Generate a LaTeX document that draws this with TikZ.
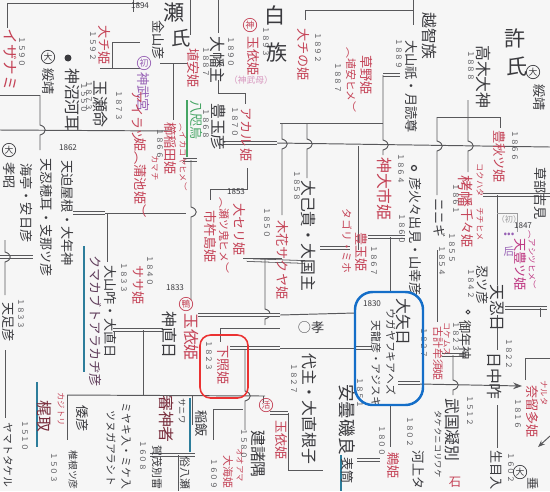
\documentclass[tikz,border=0pt]{standalone}
\usepackage{fontspec}
\usepackage{tikz}
\usetikzlibrary{arrows.meta, positioning, calc}
\newfontfamily\jp{Noto Sans CJK JP}
\newfontfamily\vjp[Vertical=RotatedGlyphs]{Noto Sans CJK JP}
\definecolor{ink}{RGB}{58,58,62}
\definecolor{redink}{RGB}{196,66,86}
\definecolor{darkred}{RGB}{120,45,60}
\definecolor{magink}{RGB}{190,55,130}
\definecolor{purink}{RGB}{150,95,180}
\definecolor{plum}{RGB}{95,60,90}
\definecolor{pinkink}{RGB}{215,150,190}
\definecolor{greenink}{RGB}{70,165,100}
\definecolor{tealline}{RGB}{45,125,155}
\definecolor{boxblue}{RGB}{20,110,200}
\definecolor{boxred}{RGB}{235,50,50}
\definecolor{paper}{RGB}{246,246,246}
% vertical line with a small hop over a crossing line: x, top, crossing, bottom
\newcommand\hop[4]{\draw[rule] (#1,#2) -- (#1,#3-5) .. controls (#1+7,#3-3) and (#1+7,#3+3) .. (#1,#3+5) -- (#1,#4);}

\begin{document}
\begin{tikzpicture}[x=0.02cm, y=-0.02cm,
    vt/.style={rotate=-90, anchor=west, inner sep=0pt, text=ink, font=\vjp\fontsize{7.5}{8}\selectfont},
    vbig/.style={vt, font=\vjp\fontsize{9}{10}\selectfont},
    vmid/.style={vt, font=\vjp\fontsize{6.2}{7}\selectfont},
    vsm/.style={vt, font=\vjp\fontsize{4.8}{5}\selectfont},
    yr/.style={vt, font=\vjp\fontsize{4.4}{5}\selectfont, text=ink!85},
    hz/.style={inner sep=0pt, text=ink, font=\jp\fontsize{4.6}{5}\selectfont},
    head/.style={inner sep=0pt, text=ink, font=\jp\fontsize{12}{12}\selectfont},
    crc/.style={draw=#1, text=#1, circle, inner sep=0.3pt, line width=0.4pt, font=\jp\fontsize{5}{5}\selectfont},
    rule/.style={draw=ink!85, line width=0.55pt},
    dbl/.style={draw=ink!85, double=paper, double distance=1.1pt, line width=0.45pt},
    blueline/.style={draw=tealline, line width=0.9pt}
]
\fill[paper] (0,0) rectangle (550,491);
\useasboundingbox (0,0) rectangle (550,491);

% ---- lines
\draw[rule] (7,3) -- (140,3); \draw[rule] (7,3) -- (7,28);
\draw[rule] (133,0) -- (133,12); \draw[rule] (190,0) -- (190,35); \draw[rule] (218,0) -- (218,33);
\draw[rule] (112,42) -- (140,42); \draw[rule] (100,68) -- (140,68); \draw[rule] (112,42) -- (112,68);
\draw[rule] (160,63) -- (188,63); \draw[rule] (173,63) -- (173,120);
\draw[rule] (218,80) -- (218,93) -- (245,93) -- (245,104);
\draw[rule] (305,10) -- (413,10); \draw[rule] (305,10) -- (305,20); \draw[rule] (413,0) -- (413,25);
\draw[rule] (0,95) -- (40,95);
\hop{40}{95}{130}{150}
\draw[rule] (0,130) -- (172,131);
\draw[dbl] (223,143) -- (277,143);
\draw[rule] (277,143) -- (550,147);
\draw[dbl] (383,75) -- (400,75);
\hop{383}{75}{145}{155}
\draw[rule] (280,123) -- (383,123);
\hop{282}{123}{144}{215}
\hop{307}{123}{144}{178}
\draw[rule] (358,146) -- (358,250);
\draw[dbl] (320,248) -- (350,248);
\draw[dbl] (368,237) -- (405,237); \draw[rule] (390,237) -- (390,292);
\draw[rule] (437,117) -- (500,117); \draw[rule] (500,117) -- (500,128);
\hop{437}{117}{146}{195}
\hop{468}{100}{146}{172}
\draw[rule] (437,250) -- (437,322);
\draw[dbl] (483,195) -- (550,195); \draw[rule] (497,195) -- (497,285);
\draw[rule, draw=ink!50] (497,213) -- (517,213) -- (517,232);
\draw[dbl] (505,308) -- (547,308); \draw[rule] (540,308) -- (540,317);
\draw[rule] (497,315) -- (497,350); \draw[rule] (497,405) -- (497,448);
\draw[rule] (525,358) -- (550,358); \draw[rule] (525,358) -- (525,380);
\draw[dbl] (183,160) -- (197,160);
\hop{191}{160}{212}{300}
\draw[dbl] (73,213) -- (105,213); \draw[rule] (105,213) -- (186,213);
\draw[rule] (107,213) -- (107,262);
\draw[rule] (247,168) -- (247,189) -- (210,189) -- (210,200);
\draw[dbl] (0,257) -- (33,257);
\hop{5}{240}{257}{295}
\draw[rule] (5,350) -- (5,418);
\draw[dbl] (113,330) -- (163,330); \draw[rule] (143,330) -- (143,395);
\draw[rule] (67,395) -- (265,396); \draw[rule] (67,395) -- (67,440);
\draw[rule] (192,396) -- (192,425); \draw[rule] (263,396) -- (263,403);
\draw[rule] (213,409) -- (243,409); \draw[rule] (213,409) -- (213,440);
\hop{245}{350}{396}{430}
\draw[dbl] (150,455) -- (195,455); \draw[rule] (178,455) -- (178,491);
\draw[dbl] (247,260) -- (305,262);
\draw[rule] (243,258) -- (282,258);
\hop{265}{258}{314}{325}
\draw[dbl] (198,315) -- (280,315); \draw[rule] (280,315) -- (355,313);
\draw[rule] (220,328) -- (280,328); \draw[rule] (220,328) -- (220,342);
\draw[dbl] (230,348) -- (280,348); \draw[rule] (280,348) -- (355,348);
\draw[dbl] (355,348) -- (372,348);
\draw[dbl] (270,413) -- (288,413); \draw[rule] (288,413) -- (288,470) -- (323,470);
\draw[dbl] (357,460) -- (380,460); \draw[rule] (390,405) -- (390,447);
\draw[dbl] (398,383) -- (420,383);
\draw[rule, -{Stealth[length=5pt]}] (420,384) -- (522,386);
\draw[rule, -{Stealth[length=4pt]}] (550,436) -- (538,447);
\draw[dbl] (442,355) -- (465,355);
\hop{453}{355}{385}{395}
% coloured side bars
\draw[blueline] (84,246) -- (84,372);
\draw[blueline] (37,382) -- (37,447);
\draw[blueline] (190,398) -- (190,452);
\draw[blueline] (341,455) -- (341,491);
\draw[draw=greenink, line width=1pt] (187,100) -- (187,157);

% ---- left side
\node[vbig, text=redink] (izanami) at (10,28) {イザナミ};
\node[yr] (yIzanami) at (22,36) {１５９０};
\node[crc=ink] (cSuizeiL) at (48,57) {大};
\node[vt] (suizeiL) at (48,68) {綏靖};
\node[circle, draw=ink, fill=ink, inner sep=1.1pt, line width=0.8pt] (dotKanu) at (68,58) {};
\node[vbig] (kanu) at (73,68) {神沼河耳};
\node[yr] (yKanu) at (84,82) {１５５０};
\node[vbig] (tamakushi) at (101,80) {玉瀬命};
\node[yr] (yTama1) at (89,80) {１８７３};
\node[yr] (yTama2) at (119,90) {１８７３};
\node[vt, text=redink] (oochi) at (104,25) {大チ姫};
\node[yr] (yOochi) at (93,30) {１５９２};
\node[hz] (y1894) at (140,6) {1894};
\node[hz] (y1862) at (68,148) {1862};
\node[crc=ink] (cKoshoL) at (9,150) {大};
\node[vt] (kosho) at (10,162) {孝昭};
\node[vt] (yasuhiko) at (27,163) {海亭・安日彦};
\node[vt] (oshihomimi) at (46,158) {天忍穂耳・支那ツ彦};
\node[vt] (otoshi) at (68,160) {天迫屋根・大年神};
\node[vt, text=plum] (kumakabuto) at (96,255) {クマカブトアラカヂ彦};
\node[vt] (oonaobi) at (111,265) {大山咋・大直日};
\node[yr] (yOonaobi) at (124,262) {１８３３};
\node[vt] (amatarashi) at (8,302) {天足彦};
\node[yr] (yAmatarashi) at (21,298) {１８３３};
\node[vmid] (yamato) at (8,422) {ヤマトタケル};
\node[yr] (yYamato) at (25,420) {１５１０};
\node[vbig, text=darkred] (kajitori) at (45,400) {梶取};
\node[vsm, text=redink] (kajiKana) at (61,392) {カジトリ};
\node[vt] (yamatohiko) at (82,405) {倭彦};
\node[vt, font=\vjp\fontsize{5.6}{6}\selectfont] (shiine) at (73,450) {椎根ツ彦};
\node[yr] (yShiine) at (54,452) {１５０３};
\node[vmid] (mikeiri) at (126,402) {ミヤキ入・ミケ入};
\node[vmid] (tsunuga) at (111,410) {ツヌガアラシト};
\node[vmid] (kamo) at (157,445) {賀茂別雷};
\node[yr] (yKamo) at (143,440) {１６０８};
\node[vbig, text=darkred] (saniwa) at (167,395) {審神者};
\node[vsm] (saniwaKana) at (182,398) {サニワ};
\node[vt] (inai) at (201,410) {稲飯};
\node[vmid] (yase) at (185,456) {俗八瀬};
\node[vmid, text=redink] (ooama) at (228,455) {大海姫};
\node[vsm, text=redink] (ooamaKana) at (240,448) {オオアマ};
\node[yr] (yOoama) at (214,458) {１６０９};
\node[vbig] (takemoro) at (258,430) {建諸隅};
\node[yr] (yTakemoro) at (244,428) {１５８０};
\node[crc=redink] (cKatsu) at (266,405) {活};
\node[vt, text=redink] (tamayoriB) at (281,420) {玉依姫};

% ---- top middle
\node[head] (seHead) at (174,13) {瀬};
\node[head, font=\jp\fontsize{11}{11}\selectfont] (shiHead) at (181,38) {氏};
\node[vt] (kanayama) at (158,20) {金山彦};
\node[crc=purink] (cHatsu) at (144,63) {初};
\node[vt, text=purink] (jinmu) at (143,72) {神武宮};
\node[vt, text=redink] (airatsu) at (137,90) {アイラツ};
\node[vt, text=redink] (airatsuHime) at (140,138) {姫（蒲池姫）};
\node[vsm, text=redink] (kamachi) at (155,155) {カマチ};
\node[vt, text=redink] (haniyasu) at (193,48) {埴安姫};
\node[yr] (yHaniyasu) at (206,46) {１８８７};
\node[vt, text=greenink] (yata) at (197,100) {八咫烏};
\node[vt, text=redink] (kushinada) at (170,122) {櫛稲田姫};
\node[yr] (yKushinada) at (160,128) {１８６６};
\node[vsm, text=redink] (ikako) at (183,123) {（イカコヤヒメ）};
\node[vbig] (oohata) at (218,36) {大幡主};
\node[yr] (yOohata) at (231,36) {１８９０};
\node[crc=redink] (cKami) at (250,25) {神};
\node[vt, text=redink] (tamayoriA) at (253,36) {玉依姫};
\node[yr] (yTamayoriA) at (266,26) {１８９３};
\node[hz, text=pinkink, font=\jp\fontsize{5}{5}\selectfont] (jinmuHaha) at (251,80) {（神武母）};
\node[vbig] (toyotama) at (219,103) {豊玉彦};
\node[yr] (yToyotama) at (206,108) {１８６８};
\node[vt, text=redink] (akaru) at (246,107) {アカル};
\node[vt, text=redink] (akaruHime) at (246,148) {姫};
\node[yr] (yAkaru) at (235,106) {１８７０};
\node[head] (haku) at (275,15) {白};
\node[head] (zoku) at (277,52) {族};
\node[vt, text=redink] (oochiNo) at (303,28) {大チの姫};
\node[yr] (yOochiNo) at (318,32) {１８９２};
\node[vt, text=redink] (kayano) at (366,55) {草野姫};
\node[vmid, text=redink] (haniyasuHime) at (351,47) {（埴安ヒメ）};
\node[yr] (yKayano) at (338,62) {１８８７};
\node[vt] (ooyamatsumi) at (412,40) {大山祇・月読尊};
\node[yr] (yOoyama) at (399,38) {１８８９};
\node[vbig] (ochi) at (430,12) {越智族};
\node[vbig] (takagi) at (484,45) {高木大神};
\node[yr] (yTakagi) at (471,50) {１８８８};
\node[head] (kyo) at (515,38) {許};
\node[head] (shiR) at (517,67) {氏};
\node[crc=ink] (cSuizeiR) at (533,72) {大};
\node[vt] (suizeiR) at (539,84) {綏靖};

% ---- right side
\node[vt] (kusakabe) at (540,167) {草部吉見};
\node[vt, text=redink] (toyoaki) at (500,130) {豊秋ツ姫};
\node[yr] (yToyoaki) at (515,130) {１８６６};
\node[vbig, text=redink] (takuhata) at (466,175) {栲幡};
\node[vt, text=redink] (chichi) at (467,208) {千々姫};
\node[vsm, text=redink] (chichiKana) at (480,207) {チチヒメ};
\node[vsm, text=redink] (kokuhata) at (480,163) {コクハタ};
\node[yr] (yTaku) at (456,183) {１８６１};
\node[vt] (ninigi) at (440,198) {ニニギ};
\node[yr] (yNinigi) at (452,232) {１８５５};
\node[hz, text=ink!50] (hatsuR) at (509,219) {（初）};
\node[hz, text=purink, font=\jp\fontsize{6}{6}\selectfont] (dotsR) at (509,235) {•••};
\node[hz, text=purink, font=\jp\fontsize{6}{6}\selectfont] (kisaki) at (509,252) {后};
\node[vt, text=magink] (ameToyo) at (520,238) {天豊ツ姫};
\node[vsm, text=magink] (ashitsu) at (532,230) {（アシツヒメ）};
\node[hz] (yAme) at (523,226) {1847};
\node[vt] (oshitsu) at (482,265) {忍ツ彦};
\node[yr] (yOshitsu) at (471,268) {１８４２};
\node[vbig] (amenooshi) at (497,284) {天忍日};
\node[vbig] (hinaka) at (495,352) {日中咋};
\node[yr] (yHinaka) at (509,338) {１８２２};
\node[vt, text=redink] (naruta) at (532,385) {奈留多姫};
\node[vsm, text=redink] (narutaKana) at (544,380) {ナルタ};
\node[yr] (yNaruta) at (518,398) {１８１６};
\node[vt] (ikume) at (497,450) {生目入};
\node[yr] (yIkume) at (511,452) {１６０２};
\node[crc=ink] (cSuinin) at (520,472) {大};
\node[vt, font=\vjp\fontsize{7}{7}\selectfont] (suinin) at (533,477) {垂};
\node[vbig] (takekuni) at (452,398) {武国凝別};
\node[yr] (yTakekuni) at (470,395) {１５１２};
\node[vsm] (takekuniKana) at (438,410) {タケクニコリワケ};
\node[hz, text=redink, font=\jp\fontsize{7}{7}\selectfont] (ishi) at (455,482) {石};
\node[circle, draw=ink, inner sep=0.8pt, line width=0.5pt] (ringMitoshi) at (468,312) {};
\node[vt] (mitoshi) at (466,320) {御年神};
\node[yr] (yMitoshi) at (456,321) {１８２３};
\node[vmid, text=redink] (kokemusu) at (438,326) {古計牟須姫};
\node[vsm, text=redink] (kokemusuKana) at (447,322) {コケムス};
\node[yr] (yKokemusu) at (424,327) {１８２７};
\node[yr] (y1854) at (442,245) {１８５４};

% ---- centre
\node[circle, draw=ink, inner sep=1pt, line width=0.7pt] (ringHoori) at (414,168) {};
\node[vt] (hoori) at (415,177) {彦火々出見・山幸彦};
\node[yr] (yHoori) at (402,213) {１８６０};
\node[vbig, text=redink] (kamuoichi) at (385,157) {神大市姫};
\node[yr] (yKamuoichi) at (401,153) {１８６４};
\node[vt, text=redink] (toyotamaHime) at (362,232) {豊玉姫};
\node[yr] (yToyotamaHime) at (374,245) {１８６７};
\node[vmid, text=redink] (tagori) at (347,208) {タゴリ・ミホ};
\node[vbig] (ooanamuchi) at (308,180) {大己貴・大国主};
\node[yr] (yOoana) at (297,170) {１８５８};
\node[vt, text=redink] (konohana) at (282,220) {木花サクヤ姫};
\node[yr] (yKonohana) at (267,207) {１８５０};
\node[vt, text=redink] (ichikishima) at (211,210) {市杵島姫};
\node[vmid, text=redink] (setsuki) at (224,197) {（瀬ツ鬼ヒメ）};
\node[vt, text=redink] (seri) at (239,203) {大セリ姫};
\node[hz] (y1853) at (236,192) {1853};
\node[vt, text=redink] (sasa) at (138,265) {ササ姫};
\node[yr] (ySasa) at (150,255) {１８４０};
\node[crc=redink] (cKamo) at (186,304) {鴨};
\node[vbig, text=redink] (tamayoriC) at (191,313) {玉依姫};
\node[vbig] (naobi) at (170,311) {神直日};
\node[hz] (y1833c) at (175,288) {1833};
\node[vt, text=redink] (shiteru) at (223,345) {下照姫};
\node[yr] (yShiteru) at (209,340) {１８２３};
\node[hz, font=\jp\fontsize{7.5}{8}\selectfont] (koh) at (311,327) {○孝};
\node[vbig] (kotoshiro) at (310,353) {代主・大直根子};
\node[yr] (yKotoshiro) at (294,363) {１８２７};
\node[vt, font=\vjp\fontsize{10}{11}\selectfont] (azumi) at (347,384) {安曇磯良};
\node[yr] (yAzumi) at (360,377) {１８５１};
\node[vt] (omotsutsu) at (348,457) {表筒};
\node[vbig] (ooyahi) at (404,298) {大矢日};
\node[vmid] (ugaya) at (391,308) {ウガヤフキアヘズ};
\node[vmid] (amaryu) at (376,320) {天龍彦・アジスキ};
\node[hz] (y1830) at (372,304) {1830};
\node[vt, text=redink] (ugaHime) at (393,452) {鵜姫};
\node[yr] (yUgaHime) at (382,425) {１８００};
\node[vt] (kawakami) at (418,450) {河上タ};
\node[yr] (yKawakami) at (410,416) {１８０２};

% ---- highlight boxes
\draw[boxred, line width=0.9pt, rounded corners=6pt] (200,335) rectangle (248,398);
\draw[boxblue, line width=1.4pt, rounded corners=10pt] (355,292) rectangle (423,405);
\end{tikzpicture}
\end{document}
